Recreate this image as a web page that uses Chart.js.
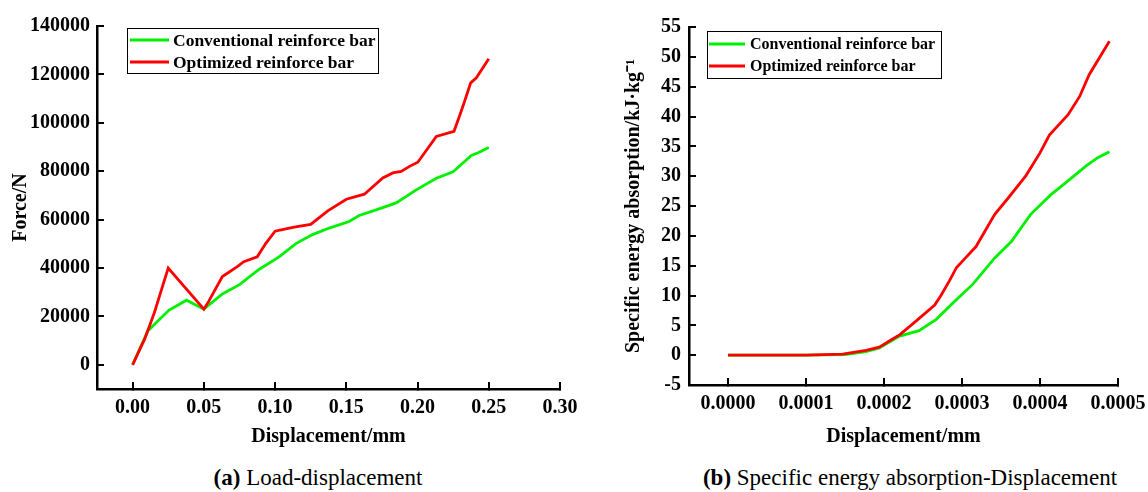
<!DOCTYPE html>
<html>
<head>
<meta charset="utf-8">
<title>Load / specific energy absorption vs displacement</title>
<script src="https://cdn.jsdelivr.net/npm/chart.js@4.4.1/dist/chart.umd.min.js"></script>
<style>
  html, body { margin: 0; padding: 0; background: #fff; }
  #page { position: relative; width: 1148px; height: 492px; overflow: hidden; }
  canvas { position: absolute; top: 0; }
  #chart-a { left: 0; }
  #chart-b { left: 600px; }
  .caption {
    position: absolute; top: 464px; height: 28px; line-height: 28px;
    font-family: 'Liberation Serif', 'Times New Roman', serif; font-size: 23px;
    text-align: center; white-space: nowrap; color: #000;
  }
  #caption-a { left: 118px; width: 400px; }
  #caption-b { left: 660px; width: 500px; }
</style>
</head>
<body>
<div id="page">
  <canvas id="chart-a" width="600" height="450"></canvas>
  <canvas id="chart-b" width="580" height="450"></canvas>
  <div class="caption" id="caption-a"><b>(a)</b> Load-displacement</div>
  <div class="caption" id="caption-b"><b>(b)</b> Specific energy absorption-Displacement</div>
</div>
<script>
// --- Series names ---
const seriesLabels = ['Conventional reinforce bar', 'Optimized reinforce bar'];

// --- (a) Load vs displacement ---
const loadConvX = [0, 0.0045, 0.0108, 0.0254, 0.0378, 0.05, 0.063, 0.075, 0.0887, 0.1028, 0.1146, 0.1263,
    0.138, 0.152, 0.159, 0.171, 0.185, 0.1991, 0.2132, 0.2249, 0.2378, 0.2425, 0.25];
const loadConvY = [0, 6000, 14100, 22500, 26700, 23000, 29300, 33100, 39400, 44600, 50100, 53800,
    56500, 59200, 61700, 64000, 66900, 72300, 77100, 79800, 86500, 87600, 89800];
const loadOptX = [0, 0.0085, 0.0153, 0.0206, 0.025, 0.05, 0.0535, 0.063, 0.0735, 0.078, 0.0875, 0.0934,
    0.1, 0.105, 0.1134, 0.125, 0.137, 0.15, 0.1627, 0.1756, 0.1826, 0.1885, 0.1944, 0.2002,
    0.2132, 0.2256, 0.2296, 0.2331, 0.2373, 0.2413, 0.25];
const loadOptY = [0, 10700, 21600, 31700, 40000, 23000, 26300, 36500, 40600, 42600, 44600, 50100,
    55200, 55900, 56900, 58000, 63600, 68400, 70500, 77200, 79300, 79900, 82000, 83700,
    94400, 96500, 103000, 109000, 116500, 118600, 126500];
const loadXTicks = [0, 0.05, 0.1, 0.15, 0.2, 0.25, 0.3];
const loadYTicks = [0, 20000, 40000, 60000, 80000, 100000, 120000, 140000];

// --- (b) Specific energy absorption vs displacement ---
const seaConvX = [0, 0.0001, 0.00015, 0.000177, 0.000194, 0.00022, 0.000245, 0.000267, 0.000288,
    0.000314, 0.000342, 0.000363, 0.000388, 0.000414, 0.000432, 0.00046, 0.000474, 0.000489];
const seaConvY = [0, 0, 0.1, 0.6, 1.2, 3.2, 4.1, 6.0, 8.7, 11.9, 16.3, 19.0, 23.6, 26.9, 28.8, 31.8, 33.1, 34.1];
const seaOptX = [0, 0.0001, 0.000147, 0.000177, 0.000194, 0.000211, 0.00022, 0.000241, 0.000265,
    0.000273, 0.000284, 0.000293, 0.000303, 0.000318, 0.000342, 0.000359, 0.000382, 0.0004,
    0.000412, 0.000436, 0.000451, 0.000463, 0.000489];
const seaOptY = [0, 0, 0.16, 0.8, 1.35, 2.7, 3.4, 5.7, 8.4, 10, 12.5, 14.7, 16.1, 18.2, 23.6, 26.3,
    30.1, 33.9, 36.9, 40.3, 43.4, 47, 52.6];
const seaXTicks = [0, 0.0001, 0.0002, 0.0003, 0.0004, 0.0005];
const seaYTicks = [-5, 0, 5, 10, 15, 20, 25, 30, 35, 40, 45, 50, 55];

// --- Styles ---
const GREEN = '#00f000';
const RED = '#ff0000';
const SERIF = "'Liberation Serif', 'Times New Roman', serif";

Chart.defaults.font.family = SERIF;
Chart.defaults.font.weight = 'bold';
Chart.defaults.color = '#000';

function toPoints(xs, ys) {
    return xs.map((x, i) => ({ x: x, y: ys[i] }));
}

// Axis with inward ticks, no grid, fixed box size
function makeAxis(o) {
    return {
        type: 'linear',
        min: o.min,
        max: o.max,
        border: { display: true, color: '#000', width: 2.5 },
        grid: { drawOnChartArea: false, drawTicks: true, tickLength: -7, color: '#000', lineWidth: 2 },
        ticks: {
            color: '#000',
            font: { size: 20, weight: 'bold' },
            padding: o.tickPad,
            autoSkip: false,
            maxRotation: 0,
            callback: v => o.fmt(v)
        },
        title: {
            display: true,
            text: o.title,
            color: '#000',
            font: { size: 20, weight: 'bold' },
            padding: o.titlePad
        },
        afterBuildTicks: scale => { scale.ticks = o.ticks.map(v => ({ value: v })); },
        afterFit: scale => {
            if (scale.isHorizontal()) scale.height = o.size;
            else scale.width = o.size;
        }
    };
}

// Framed legend drawn inside the plot area
const boxLegend = {
    id: 'boxLegend',
    afterDraw(chart, args, opts) {
        const ctx = chart.ctx;
        const x = chart.chartArea.left + opts.dx;
        const y = chart.chartArea.top + opts.dy;
        ctx.save();
        ctx.strokeStyle = '#000';
        ctx.lineWidth = 1;
        ctx.strokeRect(x + 0.5, y + 0.5, opts.w, opts.h);
        ctx.font = `bold ${opts.fontSize}px ${SERIF}`;
        ctx.textBaseline = 'middle';
        ctx.textAlign = 'left';
        [0, 1].forEach(i => {
            const ds = chart.data.datasets.find(d => d.label === seriesLabels[i]);
            const rowY = y + opts.rows[i];
            ctx.strokeStyle = ds.borderColor;
            ctx.lineWidth = 3;
            ctx.beginPath();
            ctx.moveTo(x + opts.lineFrom, rowY);
            ctx.lineTo(x + opts.lineTo, rowY);
            ctx.stroke();
            ctx.fillStyle = '#000';
            ctx.fillText(ds.label, x + opts.textX, rowY + 1);
        });
        ctx.restore();
    }
};

function buildChart(canvasId, c) {
    return new Chart(document.getElementById(canvasId), {
        type: 'line',
        data: {
            datasets: [
                { label: seriesLabels[0], data: toPoints(c.convX, c.convY), borderColor: GREEN, order: 1 },
                { label: seriesLabels[1], data: toPoints(c.optX, c.optY), borderColor: RED, order: 0 }
            ]
        },
        options: {
            responsive: false,
            animation: false,
            layout: { padding: c.padding },
            elements: {
                point: { radius: 0 },
                line: { borderWidth: 2.8, tension: 0, fill: false }
            },
            plugins: {
                legend: { display: false },
                tooltip: { enabled: false },
                boxLegend: c.legend
            },
            scales: { x: c.x, y: c.y }
        },
        plugins: [boxLegend]
    });
}

// --- (a) ---
buildChart('chart-a', {
    convX: loadConvX, convY: loadConvY, optX: loadOptX, optY: loadOptY,
    padding: { left: 0, top: 21, right: 40, bottom: 0 },
    legend: { dx: 30, dy: 2, w: 251, h: 45, rows: [12, 34], lineFrom: 3, lineTo: 42, textX: 46, fontSize: 17.5 },
    x: makeAxis({ min: -0.025, max: 0.3, ticks: loadXTicks, fmt: v => v.toFixed(2),
        title: 'Displacement/mm', titlePad: { top: 0, bottom: 1 }, tickPad: 14, size: 61 }),
    y: makeAxis({ min: -10000, max: 140000, ticks: loadYTicks, fmt: v => String(v),
        title: 'Force/N', titlePad: { top: 9, bottom: 0 }, tickPad: 14, size: 97 })
});

// --- (b) ---
buildChart('chart-b', {
    convX: seaConvX, convY: seaConvY, optX: seaOptX, optY: seaOptY,
    padding: { left: 0, top: 18, right: 62, bottom: 0 },
    legend: { dx: 18, dy: 4, w: 234, h: 47, rows: [13, 35], lineFrom: 2, lineTo: 38, textX: 43, fontSize: 16 },
    x: makeAxis({ min: -0.00005, max: 0.0005, ticks: seaXTicks, fmt: v => v.toFixed(4),
        title: 'Displacement/mm', titlePad: { top: 0, bottom: 1 }, tickPad: 14, size: 65 }),
    y: makeAxis({ min: -5, max: 55, ticks: seaYTicks, fmt: v => String(v),
        title: 'Specific energy absorption/kJ\u00b7kg\u207b\u00b9', titlePad: { top: 22, bottom: 0 }, tickPad: 15, size: 89 })
});
</script>
</body>
</html>
